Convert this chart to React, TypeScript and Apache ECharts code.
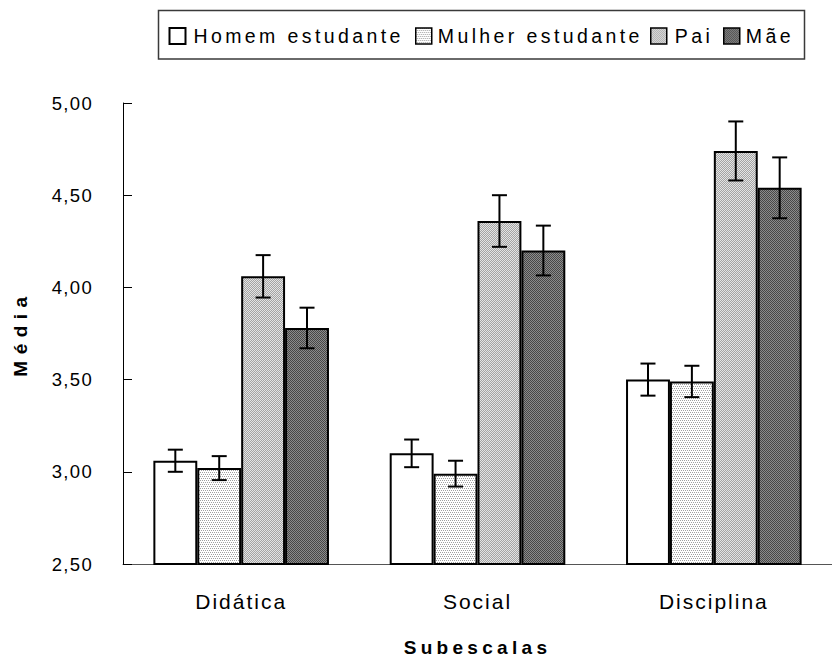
import React, { useEffect, useRef } from 'react';
import * as echarts from 'echarts';

const categories = ['Didática', 'Social', 'Disciplina'];
const seriesNames = ['Homem estudante', 'Mulher estudante', 'Pai', 'Mãe'];
const homemMeans = [3.06, 3.1, 3.5];
const homemErr = [0.06, 0.075, 0.087];
const mulherMeans = [3.02, 2.99, 3.49];
const mulherErr = [0.065, 0.07, 0.085];
const paiMeans = [4.06, 4.36, 4.74];
const paiErr = [0.115, 0.14, 0.16];
const maeMeans = [3.78, 4.2, 4.54];
const maeErr = [0.11, 0.135, 0.165];
const yMin = 2.5;
const yMax = 5;
const yStep = 0.5;
const xTitle = 'Subescalas';
const yTitle = 'Média';

const FONT = '"Liberation Sans", Arial, Helvetica, sans-serif';
const GAP = 0.257;

function makePattern(cells: string[][]) {
  const h = cells.length;
  const w = cells[0].length;
  const c = document.createElement('canvas');
  c.width = w;
  c.height = h;
  const ctx = c.getContext('2d')!;
  cells.forEach((row, y) =>
    row.forEach((col, x) => {
      ctx.fillStyle = col;
      ctx.fillRect(x, y, 1, 1);
    })
  );
  return { image: c, repeat: 'repeat' } as any;
}

const fmt = (v: number) => v.toFixed(2).replace('.', ',');

export default function App() {
  const ref = useRef<HTMLDivElement>(null);

  useEffect(() => {
    document.body.style.margin = '0';
    const el = ref.current!;
    const chart = echarts.init(el, undefined, { renderer: 'svg' });

    const W = '#ffffff';
    const G = '#a0a0a0';
    const fills = [
      '#ffffff',
      makePattern([
        [G, W, G, W],
        [W, W, W, W],
        [W, G, W, G],
        [W, W, W, W],
      ]),
      makePattern([
        ['#e4e4e4', '#a4a4a4'],
        ['#a4a4a4', '#e4e4e4'],
      ]),
      makePattern([
        ['#484848', '#8c8c8c'],
        ['#8c8c8c', '#484848'],
      ]),
    ];

    const means = [homemMeans, mulherMeans, paiMeans, maeMeans];
    const errs = [homemErr, mulherErr, paiErr, maeErr];

    const errData: number[][] = [];
    means.forEach((m, s) =>
      m.forEach((v, c) => errData.push([c, s, v - errs[s][c], v + errs[s][c]]))
    );

    const legendPos = [
      { left: 168.5, pad: 3 },
      { left: 415, pad: 1 },
      { left: 650, pad: 3 },
      { left: 723, pad: 1 },
    ];

    const option: any = {
      animation: false,
      grid: { left: 123, top: 103, width: 718.5, height: 468 },
      graphic: [
        {
          type: 'rect',
          shape: { x: 158.5, y: 10.5, width: 646, height: 48.5 },
          style: { fill: 'none', stroke: '#3a3a3a', lineWidth: 1.5 },
          silent: true,
        },
      ],
      legend: legendPos.map((p, i) => ({
        data: [seriesNames[i]],
        left: p.left,
        top: 26,
        padding: 0,
        itemWidth: 16,
        itemHeight: 16,
        icon: 'rect',
        selectedMode: false,
        itemStyle: { borderColor: '#000', borderWidth: i === 0 ? 2 : 1.5 },
        textStyle: {
          fontSize: 19.5,
          color: '#000',
          fontFamily: FONT,
          padding: [0, 0, 0, p.pad],
        },
      })),
      xAxis: {
        type: 'category',
        data: categories,
        name: xTitle,
        nameLocation: 'middle',
        nameGap: 74,
        nameTextStyle: { fontSize: 19, fontWeight: 'bold', color: '#000', fontFamily: FONT },
        axisLine: { lineStyle: { color: '#555', width: 1 } },
        axisTick: { inside: true, length: 8, lineStyle: { color: '#808080', width: 1 } },
        axisLabel: { fontSize: 21, color: '#000', fontFamily: FONT, margin: 27 },
      },
      yAxis: {
        type: 'value',
        min: yMin,
        max: yMax,
        interval: yStep,
        name: yTitle,
        nameLocation: 'middle',
        nameGap: 93,
        nameTextStyle: { fontSize: 19, fontWeight: 'bold', color: '#000', fontFamily: FONT },
        axisLine: { show: true, lineStyle: { color: '#000', width: 1 } },
        axisTick: { show: true, inside: true, length: 9, lineStyle: { color: '#000', width: 1 } },
        splitLine: { show: false },
        axisLabel: {
          fontSize: 18.5,
          color: '#000',
          fontFamily: FONT,
          margin: 30,
          formatter: (v: number) => fmt(v),
        },
      },
      series: [
        ...seriesNames.map((name, s) => ({
          type: 'bar',
          name,
          data: means[s],
          barGap: '0%',
          barCategoryGap: GAP * 100 + '%',
          silent: true,
          itemStyle: { color: fills[s], borderColor: '#000', borderWidth: 2 },
        })),
        {
          type: 'custom',
          name: 'erro',
          silent: true,
          data: errData,
          encode: { x: 0, y: [2, 3] },
          renderItem: (params: any, api: any) => {
            const ci = api.value(0);
            const si = api.value(1);
            const lo = api.coord([ci, api.value(2)]);
            const hi = api.coord([ci, api.value(3)]);
            const band = api.size([1, 0])[0];
            const bw = (band * (1 - GAP)) / 4;
            const x = lo[0] + (si - 1.5) * bw;
            const cap = 7.5;
            const st = { stroke: '#000', lineWidth: 2 };
            return {
              type: 'group',
              children: [
                { type: 'line', shape: { x1: x, y1: hi[1], x2: x, y2: lo[1] }, style: st },
                { type: 'line', shape: { x1: x - cap, y1: hi[1], x2: x + cap, y2: hi[1] }, style: st },
                { type: 'line', shape: { x1: x - cap, y1: lo[1], x2: x + cap, y2: lo[1] }, style: st },
              ],
            };
          },
          z: 5,
        },
      ],
    };

    chart.setOption(option);

    const spacing: Record<string, number> = {};
    seriesNames.forEach((n) => (spacing[n] = 3.4));
    categories.forEach((c) => (spacing[c] = 2));
    for (let v = yMin; v <= yMax + 1e-9; v += yStep) spacing[fmt(v)] = 1.3;
    spacing[xTitle] = 4.3;
    spacing[yTitle] = 6.5;
    const applySpacing = () => {
      el.querySelectorAll('text').forEach((t) => {
        const s = spacing[(t.textContent || '').trim()];
        if (s) t.setAttribute('letter-spacing', String(s));
      });
    };
    applySpacing();
    chart.on('rendered', applySpacing);
    const raf = requestAnimationFrame(applySpacing);

    return () => {
      cancelAnimationFrame(raf);
      chart.dispose();
    };
  }, []);

  return (
    <div
      ref={ref}
      style={{ position: 'fixed', left: 0, top: 0, width: 832, height: 662, background: '#fff' }}
    />
  );
}
